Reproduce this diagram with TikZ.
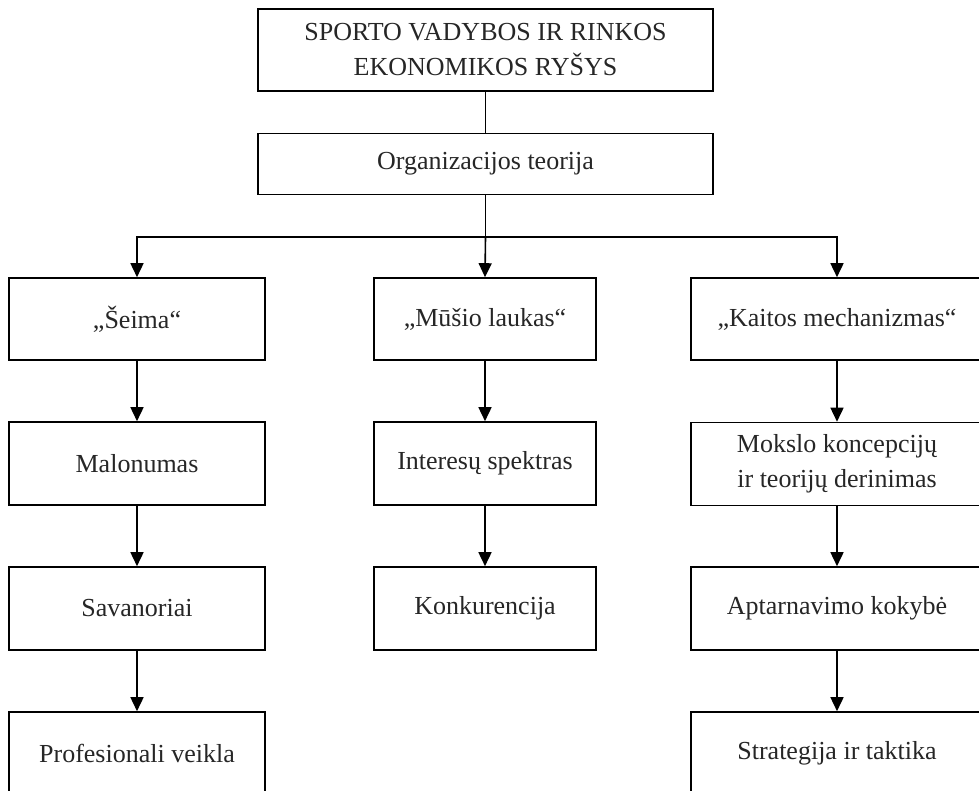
\documentclass[tikz,border=0pt]{standalone}
\usepackage{fontspec}
\setmainfont{Liberation Serif}
\usetikzlibrary{arrows.meta}
\begin{document}
\begin{tikzpicture}[x=1pt,y=-1pt,
  box/.style={draw=black, line width=1.6pt, inner sep=0pt, align=center,
    text=black!85, font=\fontsize{26}{35}\selectfont},
  link/.style={line width=1.6pt, draw=black},
  arr/.style={link, -{Triangle[width=13pt,length=14pt]}}]
\useasboundingbox (0,0) rectangle (979,791);
\clip (0,0) rectangle (979,791);

% top of the hierarchy
\node[box, minimum width=455, minimum height=82] (top) at (485.5,50)
  {SPORTO VADYBOS IR RINKOS\\EKONOMIKOS RYŠYS};
\node[box, minimum width=455, minimum height=61] (org) at (485.5,164)
  {Organizacijos teorija};

% first row
\node[box, minimum width=256, minimum height=82] (s1) at (137,319) {„Šeima“};
\node[box, minimum width=222, minimum height=82] (m1) at (485,319) {„Mūšio laukas“};
\node[box, minimum width=292, minimum height=82] (k1) at (837,319) {„Kaitos mechanizmas“};

% second row
\node[box, minimum width=256, minimum height=83] (s2) at (137,463.5) {Malonumas};
\node[box, minimum width=222, minimum height=83] (m2) at (485,463.5) {Interesų spektras};
\node[box, minimum width=292, minimum height=83] (k2) at (837,464) {Mokslo koncepcijų\\ir teorijų derinimas};

% third row
\node[box, minimum width=256, minimum height=83] (s3) at (137,608.5) {Savanoriai};
\node[box, minimum width=222, minimum height=83] (m3) at (485,608.5) {Konkurencija};
\node[box, minimum width=292, minimum height=83] (k3) at (837,608.5) {Aptarnavimo kokybė};

% fourth row
\node[box, minimum width=256, minimum height=83] (s4) at (137,753.5) {Profesionali veikla};
\node[box, minimum width=292, minimum height=83] (k4) at (837,753.5) {Strategija ir taktika};

% connectors
\draw[link] (top.south) -- (org.north);
\coordinate (br) at (org.south |- 0,237);
\draw[link] (org.south) -- (br);
\draw[arr] (br) -- (m1.north);
\draw[arr] (br) -| (s1.north);
\draw[arr] (br) -| (k1.north);

\draw[arr] (s1) -- (s2);
\draw[arr] (s2) -- (s3);
\draw[arr] (s3) -- (s4);
\draw[arr] (m1) -- (m2);
\draw[arr] (m2) -- (m3);
\draw[arr] (k1) -- (k2);
\draw[arr] (k2) -- (k3);
\draw[arr] (k3) -- (k4);
\end{tikzpicture}
\end{document}
